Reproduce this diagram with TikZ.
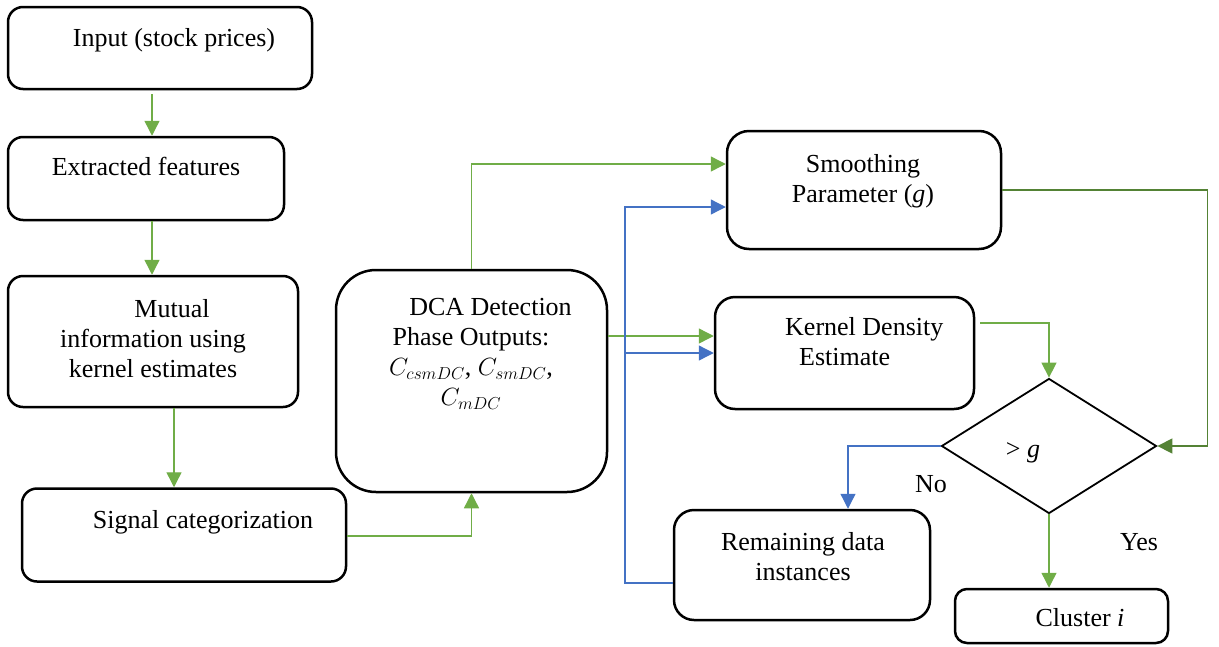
\documentclass[tikz,border=0pt]{standalone}
\usepackage{fontspec}
\setmainfont{Liberation Serif}
\usetikzlibrary{shapes.geometric, arrows.meta}

\definecolor{grn}{HTML}{70AD47}
\definecolor{dkgrn}{HTML}{548235}
\definecolor{blu}{HTML}{4472C4}

\tikzset{
  box/.style={draw, line width=2.5pt, rounded corners=15pt, inner sep=0pt},
  dia/.style={draw, diamond, line width=1.8pt, inner sep=0pt},
  txt/.style={inner sep=0pt, font=\fontsize{26}{30}\selectfont},
  garrow/.style={draw=grn, line width=1.4pt, -{Triangle[length=15pt,width=15pt]}},
  dgarrow/.style={draw=dkgrn, line width=1.4pt, -{Triangle[length=15pt,width=15pt]}},
  barrow/.style={draw=blu, line width=1.3pt, -{Triangle[length=15pt,width=15pt]}}
}

\begin{document}
\begin{tikzpicture}[x=1pt, y=-1pt]
\useasboundingbox (0,0) rectangle (1219,646);
\node[box, minimum width=304pt, minimum height=82pt] (input) at (160,48) {};
\node[txt, anchor=base] (inputtxt) at (174,46) {Input (stock prices)};
\node[box, minimum width=276pt, minimum height=83pt] (feat) at (146,178.5) {};
\node[txt, anchor=base] (feattxt) at (146,175) {Extracted features};
\node[box, minimum width=290pt, minimum height=131pt] (mutual) at (153,341.5) {};
\node[txt, align=center] (mutualtxt) at (153,339) {\hspace*{38pt}Mutual\\information using\\kernel estimates};
\node[box, minimum width=324pt, minimum height=93pt] (signal) at (184,535) {};
\node[txt, anchor=base] (signaltxt) at (203,528) {Signal categorization};
\node[box, rounded corners=40pt, minimum width=271pt, minimum height=222pt] (dca) at (471.5,381) {};
\node[txt, align=center] (dcatxt) at (471,354) {\hspace*{39pt}DCA Detection\\Phase Outputs:\\$C_{csmDC}$, $C_{smDC}$,\\$C_{mDC}$};
\node[box, rounded corners=22pt, minimum width=274pt, minimum height=118pt] (smooth) at (864,190) {};
\node[txt, align=center] (smoothtxt) at (863,181) {Smoothing\\Parameter (\textit{g})};
\node[box, rounded corners=20pt, minimum width=259pt, minimum height=112pt] (kde) at (844.5,353) {};
\node[txt, align=left, anchor=west] (kdetxt) at (785,342) {Kernel Density\\\hspace*{14pt}Estimate};
\node[dia, minimum width=215pt, minimum height=135pt] (cmp) at (1049,446) {};
\node[txt, anchor=base] (cmptxt) at (1023,457) {> \textit{g}};
\node[box, rounded corners=20pt, minimum width=256pt, minimum height=110pt] (rem) at (802,565) {};
\node[txt, align=center] (remtxt) at (803,557) {Remaining data\\instances};
\node[box, rounded corners=12pt, minimum width=213pt, minimum height=54pt] (clus) at (1061.5,616) {};
\node[txt, anchor=base] (clustxt) at (1080,626) {Cluster \textit{i}};
\node[txt, anchor=base] (no) at (931,492) {No};
\node[txt, anchor=base] (yes) at (1139,550) {Yes};
\coordinate (fb) at (625,207);
\draw[garrow] ([xshift=-8pt,yshift=-4pt]input.south) -- ([xshift=-8pt]input.south |- feat.north);
\draw[garrow] ([xshift=6pt]feat.south) -- ([xshift=6pt]feat.south |- mutual.north);
\draw[garrow] ([xshift=21pt]mutual.south) -- ([xshift=21pt]mutual.south |- signal.north);
\draw[garrow] ([yshift=-1pt]signal.east) -| (dca.south);
\draw[garrow] (dca.north) |- ([yshift=26pt]smooth.west);
\draw[garrow] ([yshift=45pt]dca.east) -- ([yshift=45pt]dca.east -| kde.west);
\draw[dgarrow] (smooth.east) -| ([xshift=50pt]cmp.east) -- (cmp.east);
\draw[garrow] ([xshift=5pt,yshift=30pt]kde.east) -| (cmp.north);
\draw[barrow] (cmp.west) -| ([xshift=46pt]rem.north);
\draw[garrow] (cmp.south) -- (cmp.south |- clus.north);
\draw[barrow] ([yshift=-18pt]rem.west) -| (fb) -- (fb -| smooth.west);
\draw[barrow] (fb |- kde.west) -- (kde.west);
\end{tikzpicture}
\end{document}
